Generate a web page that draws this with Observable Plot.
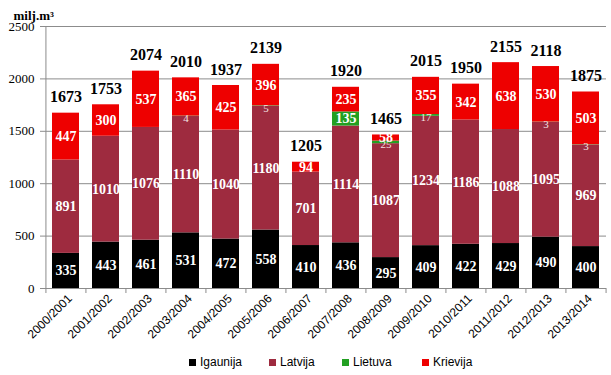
<!DOCTYPE html>
<html><head><meta charset="utf-8">
<script src="https://cdn.jsdelivr.net/npm/d3@7"></script>
<script src="https://cdn.jsdelivr.net/npm/@observablehq/plot@0.6"></script>
<style>
body{margin:0;background:#fff;}
#chart{position:relative;width:611px;height:375px;overflow:hidden;}
#legend{position:relative;height:27px;font-family:"Liberation Sans",Arial,sans-serif;font-size:12px;color:#000;}
.li{position:absolute;top:7px;display:flex;align-items:center;line-height:14px;}
.sw{width:7px;height:7px;margin-right:4px;}
</style>
</head><body><div id="chart"></div>
<script>
const years = ["2000/2001","2001/2002","2002/2003","2003/2004","2004/2005","2005/2006","2006/2007","2007/2008","2008/2009","2009/2010","2010/2011","2011/2012","2012/2013","2013/2014"];
const igaunija = [335,443,461,531,472,558,410,436,295,409,422,429,490,400];
const latvija  = [891,1010,1076,1110,1040,1180,701,1114,1087,1234,1186,1088,1095,969];
const lietuva  = [0,0,0,4,0,5,0,135,25,17,0,0,3,3];
const krievija = [447,300,537,365,425,396,94,235,58,355,342,638,530,503];
const totals   = [1673,1753,2074,2010,1937,2139,1205,1920,1465,2015,1950,2155,2118,1875];
const seriesNames = ["Igaunija","Latvija","Lietuva","Krievija"];
const seriesColors = ["#000000","#9e2b3f","#22a022","#ee0000"];
const yTicks = [0,500,1000,1500,2000,2500];
const unitLabel = "milj.m³";

const arrays = [igaunija, latvija, lietuva, krievija];
const rows = [];
years.forEach((yr, i) => arrays.forEach((arr, j) => rows.push({year: yr, series: seriesNames[j], value: arr[i]})));
const totalRows = years.map((yr, i) => ({year: yr, total: totals[i]}));

const W = 611, H = 348, mL = 44, mR = 5, mT = 26, mB = 60;
const step = (W - mL - mR) / years.length;
const serif = "'Liberation Serif','Times New Roman',serif";
const sans = "'Liberation Sans',Arial,sans-serif";
const grey = "#8c8c8c";

const stackOpts = {x: "year", y: "value", z: "series", order: seriesNames};

const plot = Plot.plot({
  width: W, height: H,
  marginLeft: mL, marginRight: mR, marginTop: mT, marginBottom: mB,
  x: {domain: years, paddingInner: 0.33, paddingOuter: 0.165, axis: null, label: null},
  y: {domain: [0, 2500], axis: null, label: null},
  color: {domain: seriesNames, range: seriesColors},
  style: {background: "#fff"},
  marks: [
    Plot.gridY(yTicks, {stroke: grey, strokeOpacity: 1}),
    Plot.axisY({ticks: yTicks, tickFormat: d => String(d), label: null, tickSize: 4, tickPadding: 6, stroke: grey, fontFamily: serif, fontSize: 13, fill: "#000"}),
    Plot.ruleX([years[0]], {x: d => d, dx: -step / 2, y1: 0, y2: 2500, stroke: grey}),
    Plot.barY(rows, Plot.stackY({...stackOpts, fill: "series"})),
    Plot.ruleY([0], {stroke: grey}),
    Plot.axisX({ticks: years, tickSize: 5, dx: -step / 2, stroke: grey, label: null, tickFormat: () => ""}),
    Plot.axisX({ticks: [years[years.length - 1]], tickSize: 5, dx: step / 2, stroke: grey, label: null, tickFormat: () => ""}),
    Plot.axisX({ticks: years, tickSize: 0, tickRotate: -45, tickPadding: 8, dx: 4, label: null, fontFamily: sans, fontSize: 12, fill: "#000"}),
    Plot.text(rows, Plot.stackY({...stackOpts, text: d => d.value >= 50 ? String(d.value) : "", fill: "#fff", fontFamily: serif, fontWeight: "bold", fontSize: 14})),
    Plot.text(rows, Plot.stackY({...stackOpts, text: d => d.value > 0 && d.value < 50 ? String(d.value) : "", dy: 2, fill: "#f4e4e4", fontFamily: serif, fontSize: 11})),
    Plot.text(totalRows, {x: "year", y: "total", text: d => String(d.total), dy: -16, fill: "#000", fontFamily: serif, fontWeight: "bold", fontSize: 16}),
    Plot.text([unitLabel], {frameAnchor: "top-left", text: d => d, dx: -31, dy: -16, textAnchor: "start", fill: "#000", fontFamily: serif, fontWeight: "bold", fontSize: 13})
  ]
});
const chart = document.getElementById("chart");
chart.appendChild(plot);
const legend = document.createElement("div");
legend.id = "legend";
const legendX = [189, 269, 342, 422];
seriesNames.forEach((s, i) => {
  const it = document.createElement("div");
  it.className = "li";
  it.style.left = legendX[i] + "px";
  it.innerHTML = `<span class="sw" style="background:${seriesColors[i]}"></span><span>${s}</span>`;
  legend.appendChild(it);
});
chart.appendChild(legend);
</script>
</body></html>
